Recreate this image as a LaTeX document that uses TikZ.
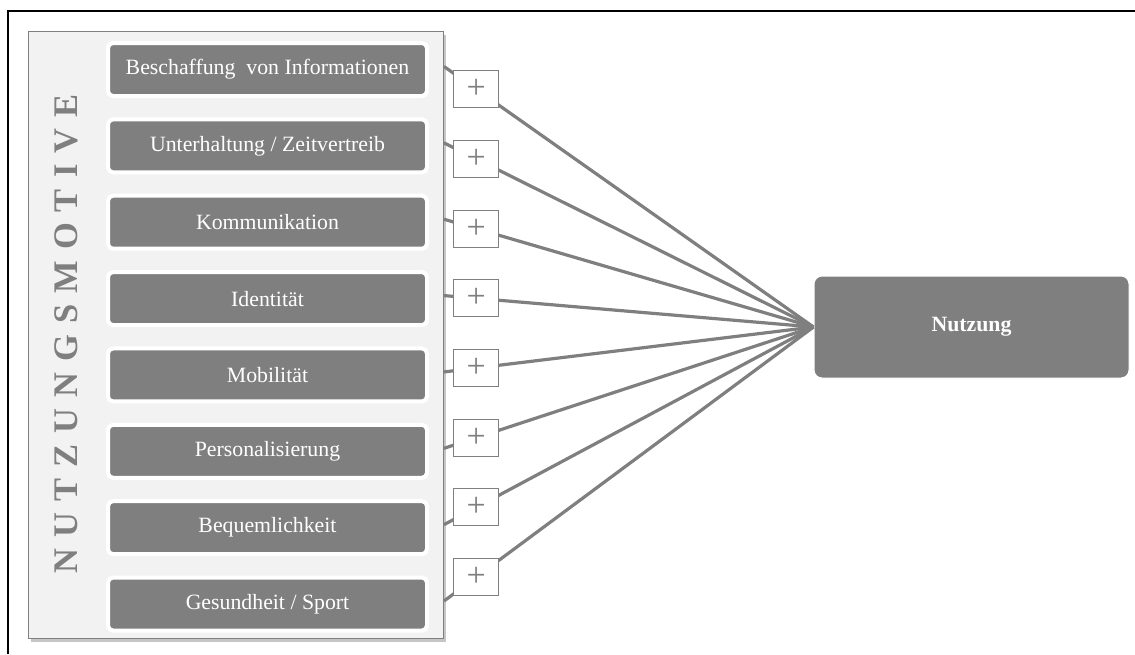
\documentclass[tikz,border=0pt]{standalone}
\usepackage{fontspec}
\setmainfont{Liberation Serif}
\newfontfamily\spacedfont[LetterSpace=32]{Liberation Serif}
\usetikzlibrary{positioning, calc, shadows}
\definecolor{cgrey}{HTML}{7F7F7F}
\definecolor{cpanel}{HTML}{F2F2F2}
\tikzset{
  every picture/.style={line width=1pt},
  panel/.style={draw=cgrey, fill=cpanel, inner sep=0pt, drop shadow={shadow xshift=2pt, shadow yshift=-3pt, opacity=0.45}},
  motive/.style={draw=white, line width=4pt, fill=cgrey, rounded corners=5pt, minimum width=319pt, minimum height=53pt, text=white, font=\fontsize{21.8}{24}\selectfont},
  plusbox/.style={draw=cgrey, fill=white, line width=1pt, minimum width=45pt, minimum height=37pt, inner sep=0pt, text=cgrey, font=\fontsize{34}{34}\selectfont},
  link/.style={draw=cgrey, line width=3.2pt},
  result/.style={draw=white, fill=cgrey, rounded corners=8pt, minimum width=315pt, minimum height=102pt, text=white, font=\fontsize{21.8}{24}\selectfont\bfseries},
}

\begin{document}
\begin{tikzpicture}[x=1pt, y=-1pt]
  \useasboundingbox (0,0) rectangle (1135,654);
  % outer frame, open at the right and at the bottom
  \draw[line width=2pt] (8,654) -- (8,11) -- (1135,11);
  % panel with the motives
  \node[panel, minimum width=415pt, minimum height=607pt, anchor=north west] (panel) at (28,31) {};
  \node[rotate=90, text=cgrey, font=\spacedfont\fontsize{34.5}{34}\selectfont\bfseries] (title) at (66,334) {NUTZUNGSMOTIVE};
  \foreach \t [count=\i] in {Beschaffung\ \ von Informationen, Unterhaltung / Zeitvertreib, Kommunikation, Identität, Mobilität, Personalisierung, Bequemlichkeit, Gesundheit / Sport}
    \node[motive] (m\i) at (267.5, {69.5+76.36*(\i-1)}) {\t};
  % target
  \node[result] (nutzung) at (971.5,327) {Nutzung};
  % links with the plus signs
  \foreach \i in {1,...,8}
    \draw[link] ([yshift=3pt]panel.east |- m\i.center) -- node[plusbox, pos=0.0874] (p\i) {+} (nutzung.west);
\end{tikzpicture}
\end{document}
